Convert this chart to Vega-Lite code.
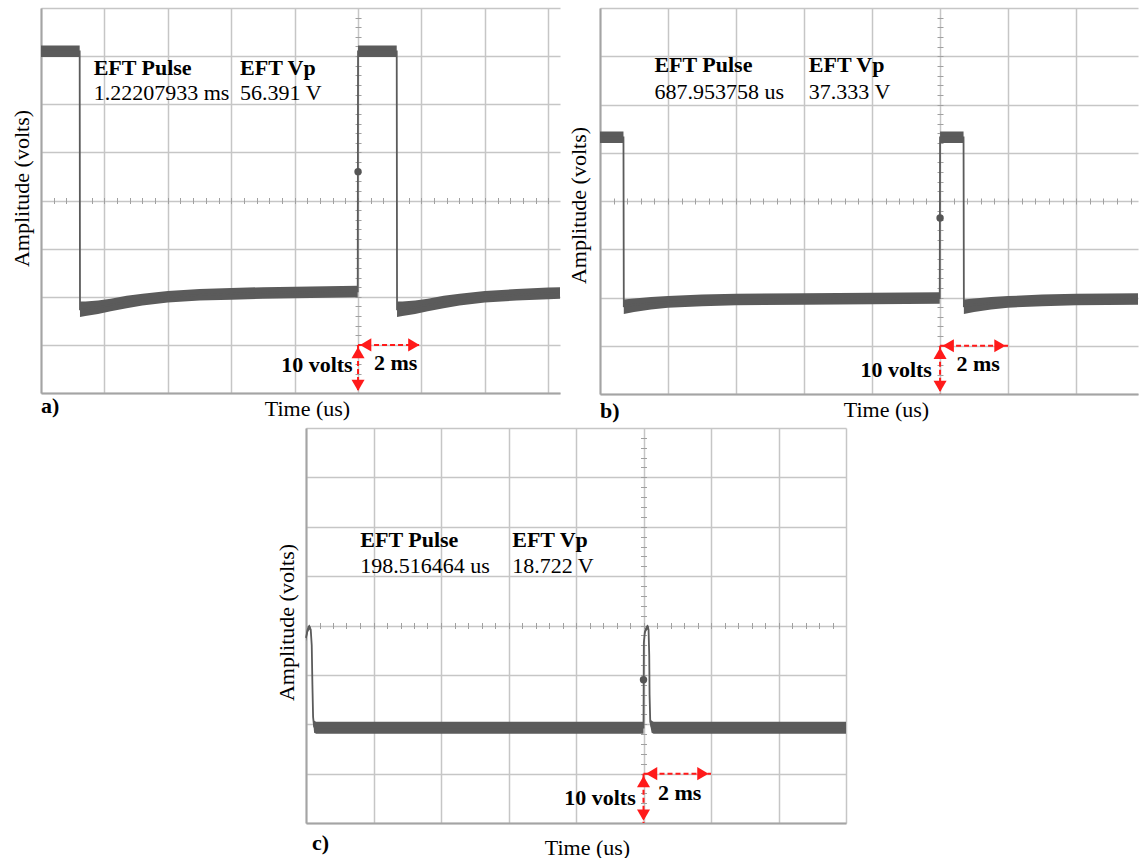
{
  "$schema": "https://vega.github.io/schema/vega-lite/v6.json",
  "background": "white",
  "padding": {"left": 10, "top": 8, "right": 0, "bottom": 0},
  "datasets": {
    "trace": [
      {"panel": "a", "t": -10, "v": 31.0, "lo": 29.8, "hi": 32.2},
      {"panel": "a", "t": -8.78, "v": 31.0, "lo": 29.8, "hi": 32.2},
      {"panel": "a", "t": -8.77, "v": -22.6, "lo": -24.2, "hi": -21.0},
      {"panel": "a", "t": -8.6, "v": -22.5, "lo": -24.0, "hi": -21.0},
      {"panel": "a", "t": -8.2, "v": -22.2, "lo": -23.6, "hi": -20.8},
      {"panel": "a", "t": -7.8, "v": -21.7, "lo": -23.0, "hi": -20.4},
      {"panel": "a", "t": -7.3, "v": -21.1, "lo": -22.4, "hi": -19.8},
      {"panel": "a", "t": -6.8, "v": -20.6, "lo": -21.8, "hi": -19.4},
      {"panel": "a", "t": -6.0, "v": -20.0, "lo": -21.2, "hi": -18.8},
      {"panel": "a", "t": -5.0, "v": -19.6, "lo": -20.8, "hi": -18.4},
      {"panel": "a", "t": -4.0, "v": -19.4, "lo": -20.6, "hi": -18.2},
      {"panel": "a", "t": -3.0, "v": -19.2, "lo": -20.4, "hi": -18.0},
      {"panel": "a", "t": -2.0, "v": -19.1, "lo": -20.3, "hi": -17.9},
      {"panel": "a", "t": -1.0, "v": -19.0, "lo": -20.2, "hi": -17.8},
      {"panel": "a", "t": -0.01, "v": -18.9, "lo": -20.1, "hi": -17.7},
      {"panel": "a", "t": 0, "v": 31.0, "lo": 29.8, "hi": 32.2},
      {"panel": "a", "t": 1.22, "v": 31.0, "lo": 29.8, "hi": 32.2},
      {"panel": "a", "t": 1.23, "v": -22.6, "lo": -24.2, "hi": -21.0},
      {"panel": "a", "t": 1.4, "v": -22.5, "lo": -24.0, "hi": -21.0},
      {"panel": "a", "t": 1.8, "v": -22.2, "lo": -23.6, "hi": -20.8},
      {"panel": "a", "t": 2.2, "v": -21.7, "lo": -23.0, "hi": -20.4},
      {"panel": "a", "t": 2.7, "v": -21.1, "lo": -22.4, "hi": -19.8},
      {"panel": "a", "t": 3.2, "v": -20.6, "lo": -21.8, "hi": -19.4},
      {"panel": "a", "t": 4.0, "v": -20.0, "lo": -21.2, "hi": -18.8},
      {"panel": "a", "t": 5.0, "v": -19.6, "lo": -20.8, "hi": -18.4},
      {"panel": "a", "t": 6.0, "v": -19.3, "lo": -20.5, "hi": -18.1},
      {"panel": "a", "t": 6.37, "v": -19.2, "lo": -20.4, "hi": -18.0},
      {"panel": "b", "t": -10, "v": 13.2, "lo": 12.0, "hi": 14.4},
      {"panel": "b", "t": -9.31, "v": 13.2, "lo": 12.0, "hi": 14.4},
      {"panel": "b", "t": -9.30, "v": -21.8, "lo": -23.4, "hi": -20.4},
      {"panel": "b", "t": -9.0, "v": -21.5, "lo": -23.0, "hi": -20.2},
      {"panel": "b", "t": -8.5, "v": -21.2, "lo": -22.5, "hi": -19.9},
      {"panel": "b", "t": -8.0, "v": -20.9, "lo": -22.1, "hi": -19.7},
      {"panel": "b", "t": -7.0, "v": -20.6, "lo": -21.8, "hi": -19.4},
      {"panel": "b", "t": -6.0, "v": -20.4, "lo": -21.6, "hi": -19.2},
      {"panel": "b", "t": -4.0, "v": -20.3, "lo": -21.5, "hi": -19.1},
      {"panel": "b", "t": -2.0, "v": -20.2, "lo": -21.4, "hi": -19.0},
      {"panel": "b", "t": -0.01, "v": -20.1, "lo": -21.3, "hi": -18.9},
      {"panel": "b", "t": 0, "v": 13.2, "lo": 12.0, "hi": 14.4},
      {"panel": "b", "t": 0.69, "v": 13.2, "lo": 12.0, "hi": 14.4},
      {"panel": "b", "t": 0.70, "v": -21.8, "lo": -23.4, "hi": -20.4},
      {"panel": "b", "t": 1.0, "v": -21.5, "lo": -23.0, "hi": -20.2},
      {"panel": "b", "t": 1.5, "v": -21.2, "lo": -22.5, "hi": -19.9},
      {"panel": "b", "t": 2.0, "v": -20.9, "lo": -22.1, "hi": -19.7},
      {"panel": "b", "t": 3.0, "v": -20.6, "lo": -21.8, "hi": -19.4},
      {"panel": "b", "t": 4.0, "v": -20.4, "lo": -21.6, "hi": -19.2},
      {"panel": "b", "t": 5.82, "v": -20.3, "lo": -21.5, "hi": -19.1},
      {"panel": "c", "t": -10, "v": -2.5, "lo": -3.2, "hi": -1.8},
      {"panel": "c", "t": -9.95, "v": -0.8, "lo": -1.4, "hi": -0.2},
      {"panel": "c", "t": -9.9, "v": -0.3, "lo": -0.8, "hi": 0.2},
      {"panel": "c", "t": -9.86, "v": -0.8, "lo": -1.3, "hi": -0.3},
      {"panel": "c", "t": -9.83, "v": -4.0, "lo": -4.5, "hi": -3.5},
      {"panel": "c", "t": -9.81, "v": -12.0, "lo": -12.5, "hi": -11.5},
      {"panel": "c", "t": -9.79, "v": -18.5, "lo": -19.2, "hi": -17.8},
      {"panel": "c", "t": -9.76, "v": -20.5, "lo": -21.7, "hi": -19.3},
      {"panel": "c", "t": -9.7, "v": -20.7, "lo": -21.9, "hi": -19.5},
      {"panel": "c", "t": -6.0, "v": -20.7, "lo": -21.9, "hi": -19.5},
      {"panel": "c", "t": -3.0, "v": -20.7, "lo": -21.9, "hi": -19.5},
      {"panel": "c", "t": -0.01, "v": -20.7, "lo": -21.9, "hi": -19.5},
      {"panel": "c", "t": 0, "v": -20.7, "lo": -21.9, "hi": -19.5},
      {"panel": "c", "t": 0.01, "v": -3.5, "lo": -4.0, "hi": -3.0},
      {"panel": "c", "t": 0.04, "v": -1.3, "lo": -1.8, "hi": -0.8},
      {"panel": "c", "t": 0.09, "v": -0.5, "lo": -1.0, "hi": 0.0},
      {"panel": "c", "t": 0.13, "v": -0.3, "lo": -0.8, "hi": 0.2},
      {"panel": "c", "t": 0.15, "v": -0.9, "lo": -1.4, "hi": -0.4},
      {"panel": "c", "t": 0.17, "v": -6.0, "lo": -6.5, "hi": -5.5},
      {"panel": "c", "t": 0.18, "v": -14.0, "lo": -14.5, "hi": -13.5},
      {"panel": "c", "t": 0.2, "v": -19.5, "lo": -20.2, "hi": -18.8},
      {"panel": "c", "t": 0.24, "v": -20.5, "lo": -21.7, "hi": -19.3},
      {"panel": "c", "t": 0.3, "v": -20.7, "lo": -21.9, "hi": -19.5},
      {"panel": "c", "t": 3.0, "v": -20.7, "lo": -21.9, "hi": -19.5},
      {"panel": "c", "t": 6.0, "v": -20.7, "lo": -21.9, "hi": -19.5}
    ],
    "trigger": [
      {"panel": "a", "t": 0, "v": 6.0},
      {"panel": "b", "t": 0, "v": -3.5},
      {"panel": "c", "t": 0, "v": -11.0}
    ],
    "labels": [
      {"panel": "a", "t": -8.34, "v": 26.0, "text": "EFT Pulse", "kind": "head"},
      {"panel": "a", "t": -3.72, "v": 26.0, "text": "EFT Vp", "kind": "head"},
      {"panel": "a", "t": -8.34, "v": 20.8, "text": "1.22207933 ms", "kind": "value"},
      {"panel": "a", "t": -3.72, "v": 20.8, "text": "56.391 V", "kind": "value"},
      {"panel": "a", "t": -0.17, "v": -35.7, "text": "10 volts", "kind": "volts"},
      {"panel": "a", "t": 0.5, "v": -35.3, "text": "2 ms", "kind": "head"},
      {"panel": "b", "t": -8.4, "v": 26.8, "text": "EFT Pulse", "kind": "head"},
      {"panel": "b", "t": -3.86, "v": 26.8, "text": "EFT Vp", "kind": "head"},
      {"panel": "b", "t": -8.4, "v": 21.1, "text": "687.953758 us", "kind": "value"},
      {"panel": "b", "t": -3.86, "v": 21.1, "text": "37.333 V", "kind": "value"},
      {"panel": "b", "t": -0.24, "v": -36.4, "text": "10 volts", "kind": "volts"},
      {"panel": "b", "t": 0.48, "v": -35.3, "text": "2 ms", "kind": "head"},
      {"panel": "c", "t": -8.39, "v": 15.8, "text": "EFT Pulse", "kind": "head"},
      {"panel": "c", "t": -3.89, "v": 15.8, "text": "EFT Vp", "kind": "head"},
      {"panel": "c", "t": -8.39, "v": 10.6, "text": "198.516464 us", "kind": "value"},
      {"panel": "c", "t": -3.89, "v": 10.6, "text": "18.722 V", "kind": "value"},
      {"panel": "c", "t": -0.23, "v": -36.4, "text": "10 volts", "kind": "volts"},
      {"panel": "c", "t": 0.43, "v": -35.4, "text": "2 ms", "kind": "head"}
    ],
    "arrows": [
      {"t": 0, "t2": 0, "v": -30, "v2": -40},
      {"t": 0, "t2": 2, "v": -30, "v2": -30}
    ],
    "heads": [
      {"t": 0, "v": -31.6, "dir": "up"},
      {"t": 0, "v": -38.4, "dir": "down"},
      {"t": 0.24, "v": -30, "dir": "left"},
      {"t": 1.76, "v": -30, "dir": "right"}
    ]
  },
  "spacing": 0,
  "vconcat": [
    {
      "hconcat": [
        {
          "width": 519,
          "height": 385,
          "title": {"text": "a)", "orient": "bottom", "anchor": "start", "frame": "group", "dy": -27},
          "layer": [
            {
              "data": {"name": "trace"},
              "transform": [{"filter": "datum.panel == 'a'"}],
              "mark": {"type": "area", "color": "#5b5b5b", "opacity": 1},
              "encoding": {
                "x": {"field": "t", "type": "quantitative", "scale": {"domain": [-10, 6.37], "nice": false, "zero": false},
                  "axis": {"orient": "bottom", "values": [-10, -8, -6, -4, -2, 0, 2, 4, 6], "grid": true, "labels": false, "ticks": false, "domain": true, "title": "Time (us)", "titleX": 266, "titleY": 15}},
                "y": {"field": "lo", "type": "quantitative", "scale": {"domain": [-40, 40], "nice": false, "zero": false},
                  "axis": {"orient": "left", "values": [-40, -30, -20, -10, 0, 10, 20, 30, 40], "grid": true, "labels": false, "ticks": false, "domain": true, "title": "Amplitude (volts)", "titleX": -20, "titleY": 180, "titleAngle": -90}},
                "y2": {"field": "hi"}
              }
            },
            {
              "data": {"name": "trace"},
              "transform": [{"filter": "datum.panel == 'a'"}],
              "mark": {"type": "line", "color": "#5b5b5b", "strokeWidth": 1.8},
              "encoding": {
                "x": {"field": "t", "type": "quantitative", "axis": null},
                "y": {"field": "v", "type": "quantitative", "axis": null}
              }
            },
            {
              "data": {"name": "trigger"},
              "transform": [{"filter": "datum.panel == 'a'"}],
              "mark": {"type": "point", "filled": true, "color": "#555555", "size": 55, "opacity": 1},
              "encoding": {
                "x": {"field": "t", "type": "quantitative",
                  "axis": {"orient": "top", "offset": -195.5, "values": [-10, -9.6, -9.2, -8.8, -8.4, -8, -7.6, -7.2, -6.8, -6.4, -6, -5.6, -5.2, -4.8, -4.4, -4, -3.6, -3.2, -2.8, -2.4, -2, -1.6, -1.2, -0.8, -0.4, 0, 0.4, 0.8, 1.2, 1.6, 2, 2.4, 2.8, 3.2, 3.6, 4, 4.4, 4.8, 5.2, 5.6, 6], "grid": false, "labels": false, "domain": false, "ticks": true, "tickSize": 6, "title": null}},
                "y": {"field": "v", "type": "quantitative",
                  "axis": {"orient": "right", "offset": -204.96, "values": [-38, -36, -34, -32, -30, -28, -26, -24, -22, -20, -18, -16, -14, -12, -10, -8, -6, -4, -2, 0, 2, 4, 6, 8, 10, 12, 14, 16, 18, 20, 22, 24, 26, 28, 30, 32, 34, 36, 38], "grid": false, "labels": false, "domain": false, "ticks": true, "tickSize": 6, "title": null}}
              }
            },
            {
              "data": {"name": "arrows"},
              "mark": {"type": "rule", "color": "#ff1a1a", "strokeWidth": 2, "strokeDash": [5, 3]},
              "encoding": {
                "x": {"field": "t", "type": "quantitative", "axis": null},
                "x2": {"field": "t2"},
                "y": {"field": "v", "type": "quantitative", "axis": null},
                "y2": {"field": "v2"}
              }
            },
            {
              "data": {"name": "heads"},
              "mark": {"type": "point", "filled": true, "color": "#ff1a1a", "size": 170, "opacity": 1},
              "encoding": {
                "x": {"field": "t", "type": "quantitative", "axis": null},
                "y": {"field": "v", "type": "quantitative", "axis": null},
                "shape": {"field": "dir", "type": "nominal", "scale": {"domain": ["up", "down", "left", "right"], "range": ["triangle-up", "triangle-down", "triangle-left", "triangle-right"]}, "legend": null}
              }
            },
            {
              "data": {"name": "labels"},
              "transform": [{"filter": "datum.panel == 'a' && datum.kind == 'head'"}],
              "mark": {"type": "text", "align": "left", "baseline": "alphabetic", "fontWeight": "bold"},
              "encoding": {
                "x": {"field": "t", "type": "quantitative", "axis": null},
                "y": {"field": "v", "type": "quantitative", "axis": null},
                "text": {"field": "text"}
              }
            },
            {
              "data": {"name": "labels"},
              "transform": [{"filter": "datum.panel == 'a' && datum.kind == 'value'"}],
              "mark": {"type": "text", "align": "left", "baseline": "alphabetic", "fontWeight": "normal"},
              "encoding": {
                "x": {"field": "t", "type": "quantitative", "axis": null},
                "y": {"field": "v", "type": "quantitative", "axis": null},
                "text": {"field": "text"}
              }
            },
            {
              "data": {"name": "labels"},
              "transform": [{"filter": "datum.panel == 'a' && datum.kind == 'volts'"}],
              "mark": {"type": "text", "align": "right", "baseline": "alphabetic", "fontWeight": "bold"},
              "encoding": {
                "x": {"field": "t", "type": "quantitative", "axis": null},
                "y": {"field": "v", "type": "quantitative", "axis": null},
                "text": {"field": "text"}
              }
            }
          ],
          "resolve": {"axis": {"x": "independent", "y": "independent"}}
        },
        {
          "width": 538,
          "height": 386,
          "title": {"text": "b)", "orient": "bottom", "anchor": "start", "frame": "group", "dy": -23},
          "layer": [
            {
              "data": {"name": "trace"},
              "transform": [{"filter": "datum.panel == 'b'"}],
              "mark": {"type": "area", "color": "#5b5b5b", "opacity": 1},
              "encoding": {
                "x": {"field": "t", "type": "quantitative", "scale": {"domain": [-10, 5.82], "nice": false, "zero": false},
                  "axis": {"orient": "bottom", "values": [-10, -8, -6, -4, -2, 0, 2, 4], "grid": true, "labels": false, "ticks": false, "domain": true, "title": "Time (us)", "titleX": 286, "titleY": 15}},
                "y": {"field": "lo", "type": "quantitative", "scale": {"domain": [-40, 40], "nice": false, "zero": false},
                  "axis": {"orient": "left", "values": [-40, -30, -20, -10, 0, 10, 20, 30, 40], "grid": true, "labels": false, "ticks": false, "domain": true, "title": "Amplitude (volts)", "titleX": -22, "titleY": 197, "titleAngle": -90}},
                "y2": {"field": "hi"}
              }
            },
            {
              "data": {"name": "trace"},
              "transform": [{"filter": "datum.panel == 'b'"}],
              "mark": {"type": "line", "color": "#5b5b5b", "strokeWidth": 1.8},
              "encoding": {
                "x": {"field": "t", "type": "quantitative", "axis": null},
                "y": {"field": "v", "type": "quantitative", "axis": null}
              }
            },
            {
              "data": {"name": "trigger"},
              "transform": [{"filter": "datum.panel == 'b'"}],
              "mark": {"type": "point", "filled": true, "color": "#555555", "size": 55, "opacity": 1},
              "encoding": {
                "x": {"field": "t", "type": "quantitative",
                  "axis": {"orient": "top", "offset": -196, "values": [-10, -9.6, -9.2, -8.8, -8.4, -8, -7.6, -7.2, -6.8, -6.4, -6, -5.6, -5.2, -4.8, -4.4, -4, -3.6, -3.2, -2.8, -2.4, -2, -1.6, -1.2, -0.8, -0.4, 0, 0.4, 0.8, 1.2, 1.6, 2, 2.4, 2.8, 3.2, 3.6, 4, 4.4, 4.8, 5.2, 5.6], "grid": false, "labels": false, "domain": false, "ticks": true, "tickSize": 6, "title": null}},
                "y": {"field": "v", "type": "quantitative",
                  "axis": {"orient": "right", "offset": -201, "values": [-38, -36, -34, -32, -30, -28, -26, -24, -22, -20, -18, -16, -14, -12, -10, -8, -6, -4, -2, 0, 2, 4, 6, 8, 10, 12, 14, 16, 18, 20, 22, 24, 26, 28, 30, 32, 34, 36, 38], "grid": false, "labels": false, "domain": false, "ticks": true, "tickSize": 6, "title": null}}
              }
            },
            {
              "data": {"name": "arrows"},
              "mark": {"type": "rule", "color": "#ff1a1a", "strokeWidth": 2, "strokeDash": [5, 3]},
              "encoding": {
                "x": {"field": "t", "type": "quantitative", "axis": null},
                "x2": {"field": "t2"},
                "y": {"field": "v", "type": "quantitative", "axis": null},
                "y2": {"field": "v2"}
              }
            },
            {
              "data": {"name": "heads"},
              "mark": {"type": "point", "filled": true, "color": "#ff1a1a", "size": 170, "opacity": 1},
              "encoding": {
                "x": {"field": "t", "type": "quantitative", "axis": null},
                "y": {"field": "v", "type": "quantitative", "axis": null},
                "shape": {"field": "dir", "type": "nominal", "scale": {"domain": ["up", "down", "left", "right"], "range": ["triangle-up", "triangle-down", "triangle-left", "triangle-right"]}, "legend": null}
              }
            },
            {
              "data": {"name": "labels"},
              "transform": [{"filter": "datum.panel == 'b' && datum.kind == 'head'"}],
              "mark": {"type": "text", "align": "left", "baseline": "alphabetic", "fontWeight": "bold"},
              "encoding": {
                "x": {"field": "t", "type": "quantitative", "axis": null},
                "y": {"field": "v", "type": "quantitative", "axis": null},
                "text": {"field": "text"}
              }
            },
            {
              "data": {"name": "labels"},
              "transform": [{"filter": "datum.panel == 'b' && datum.kind == 'value'"}],
              "mark": {"type": "text", "align": "left", "baseline": "alphabetic", "fontWeight": "normal"},
              "encoding": {
                "x": {"field": "t", "type": "quantitative", "axis": null},
                "y": {"field": "v", "type": "quantitative", "axis": null},
                "text": {"field": "text"}
              }
            },
            {
              "data": {"name": "labels"},
              "transform": [{"filter": "datum.panel == 'b' && datum.kind == 'volts'"}],
              "mark": {"type": "text", "align": "right", "baseline": "alphabetic", "fontWeight": "bold"},
              "encoding": {
                "x": {"field": "t", "type": "quantitative", "axis": null},
                "y": {"field": "v", "type": "quantitative", "axis": null},
                "text": {"field": "text"}
              }
            }
          ],
          "resolve": {"axis": {"x": "independent", "y": "independent"}}
        }
      ],
      "spacing": 40,
      "bounds": "flush"
    },
    {
      "hconcat": [
        {
          "width": 245,
          "height": 10,
          "data": {"values": [{}]},
          "mark": {"type": "text", "text": ""}
        },
        {
          "width": 540,
          "height": 395,
          "title": {"text": "c)", "orient": "bottom", "anchor": "start", "frame": "group", "dx": 6, "dy": -29},
          "layer": [
            {
              "data": {"name": "trace"},
              "transform": [{"filter": "datum.panel == 'c'"}],
              "mark": {"type": "area", "color": "#5b5b5b", "opacity": 1},
              "encoding": {
                "x": {"field": "t", "type": "quantitative", "scale": {"domain": [-10, 6], "nice": false, "zero": false},
                  "axis": {"orient": "bottom", "values": [-10, -8, -6, -4, -2, 0, 2, 4, 6], "grid": true, "labels": false, "ticks": false, "domain": true, "title": "Time (us)", "titleX": 281, "titleY": 24}},
                "y": {"field": "lo", "type": "quantitative", "scale": {"domain": [-40, 40], "nice": false, "zero": false},
                  "axis": {"orient": "left", "values": [-40, -30, -20, -10, 0, 10, 20, 30, 40], "grid": true, "labels": false, "ticks": false, "domain": true, "title": "Amplitude (volts)", "titleX": -20, "titleY": 194, "titleAngle": -90}},
                "y2": {"field": "hi"}
              }
            },
            {
              "data": {"name": "trace"},
              "transform": [{"filter": "datum.panel == 'c'"}],
              "mark": {"type": "line", "color": "#5b5b5b", "strokeWidth": 1.8},
              "encoding": {
                "x": {"field": "t", "type": "quantitative", "axis": null},
                "y": {"field": "v", "type": "quantitative", "axis": null}
              }
            },
            {
              "data": {"name": "trigger"},
              "transform": [{"filter": "datum.panel == 'c'"}],
              "mark": {"type": "point", "filled": true, "color": "#555555", "size": 55, "opacity": 1},
              "encoding": {
                "x": {"field": "t", "type": "quantitative",
                  "axis": {"orient": "top", "offset": -200.5, "values": [-10, -9.6, -9.2, -8.8, -8.4, -8, -7.6, -7.2, -6.8, -6.4, -6, -5.6, -5.2, -4.8, -4.4, -4, -3.6, -3.2, -2.8, -2.4, -2, -1.6, -1.2, -0.8, -0.4, 0, 0.4, 0.8, 1.2, 1.6, 2, 2.4, 2.8, 3.2, 3.6, 4, 4.4, 4.8, 5.2, 5.6], "grid": false, "labels": false, "domain": false, "ticks": true, "tickSize": 6, "title": null}},
                "y": {"field": "v", "type": "quantitative",
                  "axis": {"orient": "right", "offset": -205.5, "values": [-38, -36, -34, -32, -30, -28, -26, -24, -22, -20, -18, -16, -14, -12, -10, -8, -6, -4, -2, 0, 2, 4, 6, 8, 10, 12, 14, 16, 18, 20, 22, 24, 26, 28, 30, 32, 34, 36, 38], "grid": false, "labels": false, "domain": false, "ticks": true, "tickSize": 6, "title": null}}
              }
            },
            {
              "data": {"name": "arrows"},
              "mark": {"type": "rule", "color": "#ff1a1a", "strokeWidth": 2, "strokeDash": [5, 3]},
              "encoding": {
                "x": {"field": "t", "type": "quantitative", "axis": null},
                "x2": {"field": "t2"},
                "y": {"field": "v", "type": "quantitative", "axis": null},
                "y2": {"field": "v2"}
              }
            },
            {
              "data": {"name": "heads"},
              "mark": {"type": "point", "filled": true, "color": "#ff1a1a", "size": 170, "opacity": 1},
              "encoding": {
                "x": {"field": "t", "type": "quantitative", "axis": null},
                "y": {"field": "v", "type": "quantitative", "axis": null},
                "shape": {"field": "dir", "type": "nominal", "scale": {"domain": ["up", "down", "left", "right"], "range": ["triangle-up", "triangle-down", "triangle-left", "triangle-right"]}, "legend": null}
              }
            },
            {
              "data": {"name": "labels"},
              "transform": [{"filter": "datum.panel == 'c' && datum.kind == 'head'"}],
              "mark": {"type": "text", "align": "left", "baseline": "alphabetic", "fontWeight": "bold"},
              "encoding": {
                "x": {"field": "t", "type": "quantitative", "axis": null},
                "y": {"field": "v", "type": "quantitative", "axis": null},
                "text": {"field": "text"}
              }
            },
            {
              "data": {"name": "labels"},
              "transform": [{"filter": "datum.panel == 'c' && datum.kind == 'value'"}],
              "mark": {"type": "text", "align": "left", "baseline": "alphabetic", "fontWeight": "normal"},
              "encoding": {
                "x": {"field": "t", "type": "quantitative", "axis": null},
                "y": {"field": "v", "type": "quantitative", "axis": null},
                "text": {"field": "text"}
              }
            },
            {
              "data": {"name": "labels"},
              "transform": [{"filter": "datum.panel == 'c' && datum.kind == 'volts'"}],
              "mark": {"type": "text", "align": "right", "baseline": "alphabetic", "fontWeight": "bold"},
              "encoding": {
                "x": {"field": "t", "type": "quantitative", "axis": null},
                "y": {"field": "v", "type": "quantitative", "axis": null},
                "text": {"field": "text"}
              }
            }
          ],
          "resolve": {"axis": {"x": "independent", "y": "independent"}}
        }
      ],
      "spacing": 20,
      "bounds": "flush"
    }
  ],
  "config": {
    "font": "Liberation Serif",
    "view": {"stroke": null},
    "text": {"font": "Liberation Serif", "fontSize": 22, "color": "black"},
    "axis": {
      "gridColor": "#c6c6c6",
      "gridWidth": 1.5,
      "gridOpacity": 1,
      "domainColor": "#a4a4a4",
      "domainWidth": 2,
      "tickColor": "#a0a0a0",
      "tickWidth": 1,
      "titleFont": "Liberation Serif",
      "titleFontSize": 22,
      "titleFontWeight": "normal",
      "titleColor": "black",
      "titleAlign": "center",
      "titleBaseline": "middle"
    },
    "title": {"font": "Liberation Serif", "fontSize": 22, "fontWeight": "bold", "color": "black", "offset": 0}
  }
}
